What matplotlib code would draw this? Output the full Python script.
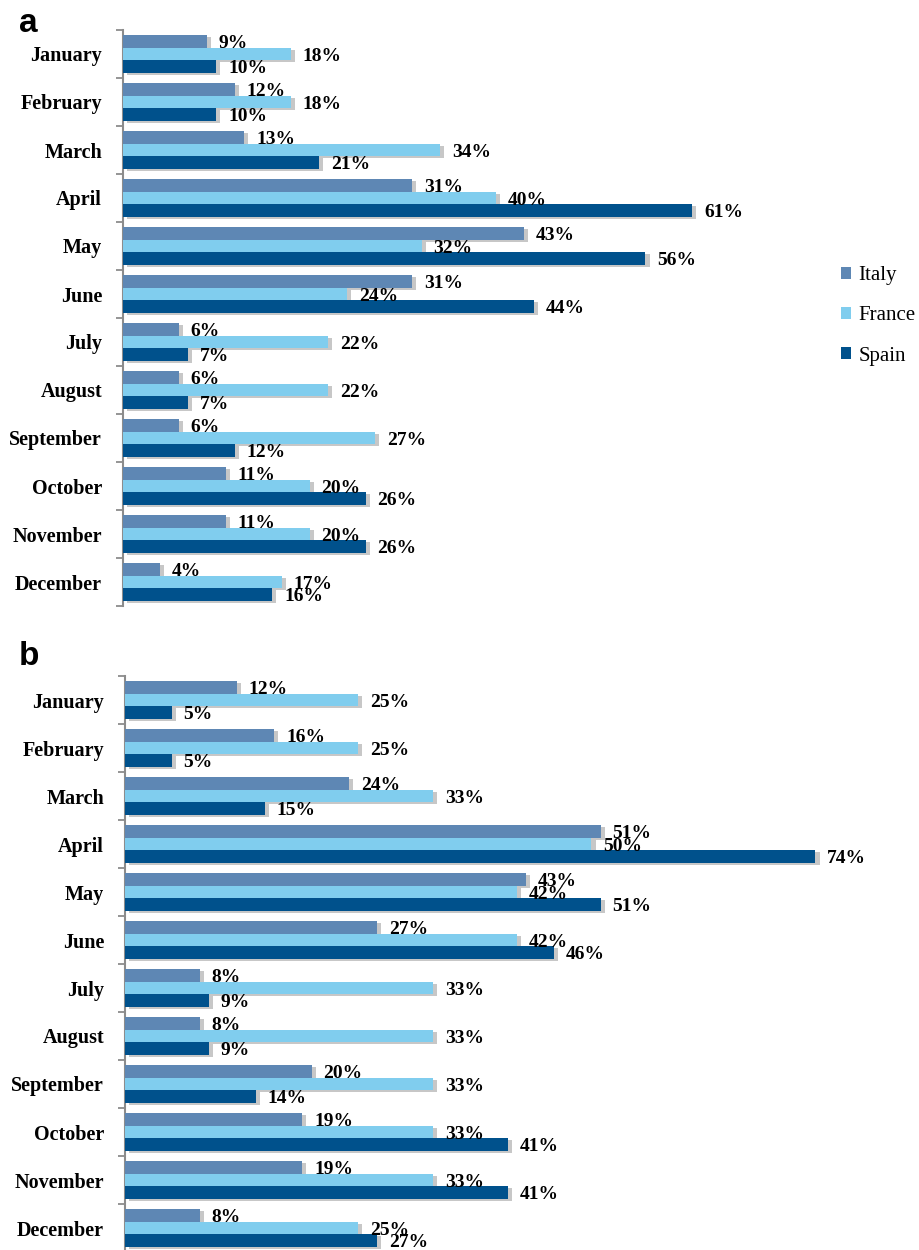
import matplotlib
matplotlib.use("Agg")
import matplotlib.pyplot as plt
import matplotlib.patheffects as pe
from matplotlib.patches import Patch
import numpy as np

months = ["January", "February", "March", "April", "May", "June", "July",
          "August", "September", "October", "November", "December"]
series = ["Italy", "France", "Spain"]

a_italy = [9, 12, 13, 31, 43, 31, 6, 6, 6, 11, 11, 4]
a_france = [18, 18, 34, 40, 32, 24, 22, 22, 27, 20, 20, 17]
a_spain = [10, 10, 21, 61, 56, 44, 7, 7, 12, 26, 26, 16]

b_italy = [12, 16, 24, 51, 43, 27, 8, 8, 20, 19, 19, 8]
b_france = [25, 25, 33, 50, 42, 42, 33, 33, 33, 33, 33, 25]
b_spain = [5, 5, 15, 74, 51, 46, 9, 9, 14, 41, 41, 27]

colors = ["#5E87B4", "#80CDEE", "#00518C"]

W, H = 919, 1250
fig = plt.figure(figsize=(W / 100, H / 100), dpi=100)

PX_PER_PCT = 9.33
XMAX = 75

serif = ["Liberation Serif", "DejaVu Serif"]


def panel(left_px, top_px, data, draw_legend):
    height_px = 576
    ax = fig.add_axes([left_px / W, 1 - (top_px + height_px) / H,
                       XMAX * PX_PER_PCT / W, height_px / H])
    n = len(months)
    y = np.arange(n) + 0.5
    offsets = [-0.265, 0.0, 0.265]
    bh = 0.265
    shadow = [pe.SimplePatchShadow(offset=(3.0, -1.5), shadow_rgbFace="#909090", alpha=0.5),
              pe.Normal()]
    for vals, off, col, name in zip(data, offsets, colors, series):
        bars = ax.barh(y + off, vals, height=bh, color=col, label=name, zorder=3)
        for b in bars:
            b.set_path_effects(shadow)
        for yi, v in zip(y + off, vals):
            ax.annotate(f"{v}%", xy=(v, yi), xytext=(8.5, -1.5), textcoords="offset points",
                        ha="left", va="center", fontsize=14, fontweight="bold",
                        family=serif, zorder=5)
    ax.set_xlim(0, XMAX)
    ax.set_ylim(n, 0)
    ax.set_yticks(np.arange(n + 1))
    ax.set_yticklabels([])
    ax.set_yticks(y, minor=True)
    ax.set_yticklabels(months, minor=True, fontsize=14.5, fontweight="bold", family=serif)
    ax.tick_params(axis="y", which="major", direction="out", length=5, width=1.3, color="#8C8C8C")
    ax.tick_params(axis="y", which="minor", length=0, pad=15)
    ax.set_xticks([])
    for s in ["top", "right", "bottom"]:
        ax.spines[s].set_visible(False)
    ax.spines["left"].set_color("#8C8C8C")
    ax.spines["left"].set_linewidth(1.5)
    ax.patch.set_alpha(0)
    if draw_legend:
        proxies = [Patch(facecolor=c, edgecolor="none") for c in colors]
        fig.legend(handles=proxies, labels=series, loc="center left",
                   bbox_to_anchor=(841 / W, 1 - 316 / H), frameon=False,
                   borderaxespad=0, borderpad=0,
                   prop={"family": serif, "size": 15}, handlelength=0.5,
                   handleheight=0.5, handletextpad=0.35, labelspacing=1.02)
    return ax


panel(123, 30, [a_italy, a_france, a_spain], True)
panel(125, 676, [b_italy, b_france, b_spain], False)

fig.text(19 / W, 1 - 32 / H, "a", fontsize=24, fontweight="bold",
         family=["Liberation Sans", "DejaVu Sans"], ha="left", va="baseline")
fig.text(19 / W, 1 - 665 / H, "b", fontsize=24, fontweight="bold",
         family=["Liberation Sans", "DejaVu Sans"], ha="left", va="baseline")

fig.savefig("out.png", dpi=100)
